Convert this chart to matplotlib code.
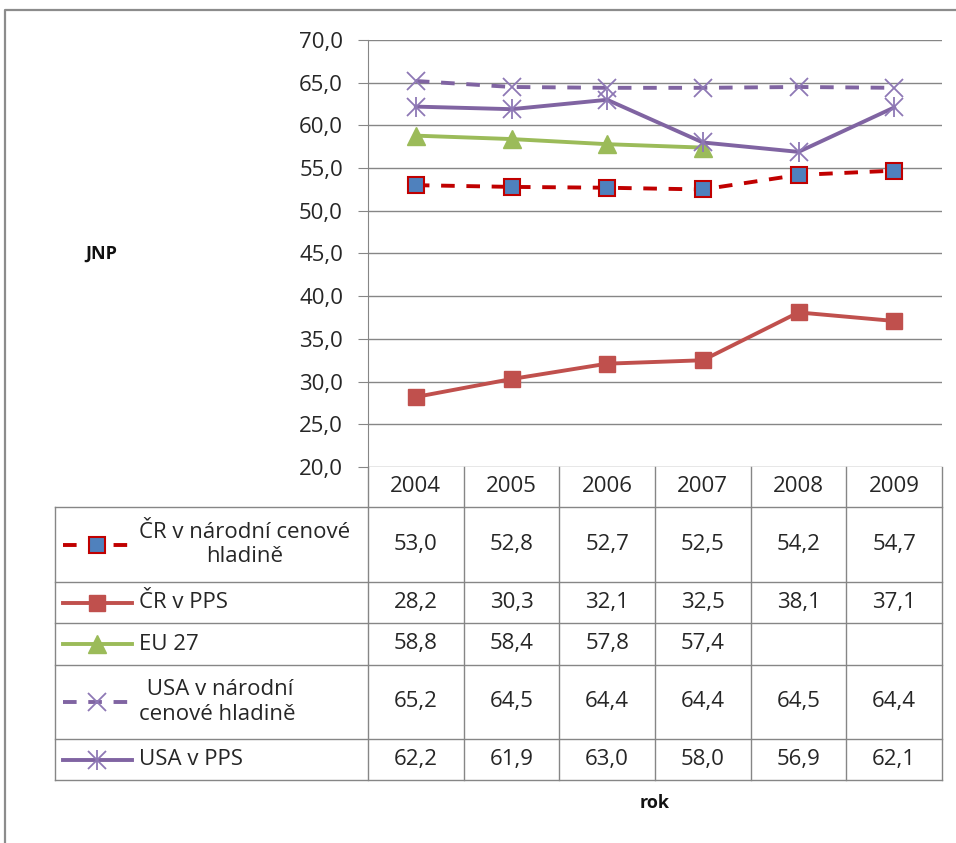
import numpy as np
import matplotlib.pyplot as plt
from matplotlib.transforms import blended_transform_factory

plt.rcParams['font.family'] = ['Open Sans', 'DejaVu Sans']

# data
years = ['2004', '2005', '2006', '2007', '2008', '2009']
cr_narodni = [53.0, 52.8, 52.7, 52.5, 54.2, 54.7]
cr_pps = [28.2, 30.3, 32.1, 32.5, 38.1, 37.1]
eu27 = [58.8, 58.4, 57.8, 57.4, np.nan, np.nan]
usa_narodni = [65.2, 64.5, 64.4, 64.4, 64.5, 64.4]
usa_pps = [62.2, 61.9, 63.0, 58.0, 56.9, 62.1]
labels = ['ČR v národní cenové\nhladině', 'ČR v PPS', 'EU 27',
          ' USA v národní\ncenové hladině', 'USA v PPS']
yticks = [20, 25, 30, 35, 40, 45, 50, 55, 60, 65, 70]

W, H = 956, 843
grey = '#868686'
txt = '#262626'
fs = 16
fig = plt.figure(figsize=(W / 100, H / 100), dpi=100)


def box(x0, y0, x1, y1):
    # pixel box (origin top left) -> figure fractions
    return [x0 / W, 1 - y1 / H, (x1 - x0) / W, (y1 - y0) / H]


ax = fig.add_axes(box(368, 40, 942, 467))
ov = fig.add_axes([0, 0, 1, 1], zorder=-1)
ov.set_xlim(0, W)
ov.set_ylim(H, 0)
ov.axis('off')

styles = [
    dict(color='#C00000', ls=(0, (3.5, 3)), marker='s', mfc='#4F81BD', mec='#C00000', ms=12, mew=1.5),
    dict(color='#C0504D', ls='-', marker='s', mfc='#C0504D', mec='#C0504D', ms=12, mew=1),
    dict(color='#9BBB59', ls='-', marker='^', mfc='#9BBB59', mec='#9BBB59', ms=13, mew=1),
    dict(color='#8064A2', ls=(0, (3.5, 3)), marker='x', mfc='#8064A2', mec='#8E78B5', ms=13, mew=1.3),
    dict(color='#8064A2', ls='-', marker='x', mfc='#8064A2', mec='#8E78B5', ms=13, mew=1.3),
]
series = [cr_narodni, cr_pps, eu27, usa_narodni, usa_pps]
x = np.arange(len(years))

for vals, st in zip(series, styles):
    ax.plot(x, vals, lw=2.8, **st)
# star marker = x + vertical bar
ax.plot(x, usa_pps, ls='none', marker='|', ms=15, mew=1.3, color='#8E78B5')

ax.set_xlim(-0.5, len(years) - 0.5)
ax.set_ylim(20, 70)
ax.set_yticks(yticks)
ax.set_yticklabels([f"{v:.1f}".replace('.', ',') for v in yticks])
ax.set_xticks([])
ax.tick_params(axis='y', direction='out', length=7, color=grey, labelsize=fs, pad=11, labelcolor=txt)
ax.grid(axis='y', color=grey, lw=1)
ax.set_axisbelow(True)
for s in ['top', 'right', 'bottom']:
    ax.spines[s].set_visible(False)
ax.spines['left'].set_color(grey)
ax.patch.set_visible(False)

# data table under the chart
tr = blended_transform_factory(ax.transData, ov.transData)
rows = [467, 507, 582, 623, 665, 739, 780]
left, right = 55, 942
for r in rows[1:]:
    ov.plot([left, right], [r, r], color=grey, lw=1)
ov.plot([left, left], [rows[1], rows[-1]], color=grey, lw=1)
for i in range(len(years) + 1):
    ov.plot([i - 0.5, i - 0.5], [rows[0], rows[-1]], color=grey, lw=1, transform=tr)

for i, yr in enumerate(years):
    ov.text(i, (rows[0] + rows[1]) / 2, yr, transform=tr, ha='center', va='center', fontsize=fs, color=txt)

for k, (vals, st, lab) in enumerate(zip(series, styles, labels)):
    yc = (rows[k + 1] + rows[k + 2]) / 2
    for i, v in enumerate(vals):
        if not np.isnan(v):
            ov.text(i, yc, f"{v:.1f}".replace('.', ','), transform=tr, ha='center', va='center',
                    fontsize=fs, color=txt)
    # legend key
    ov.plot([63, 132], [yc, yc], color=st['color'], ls=st['ls'], lw=2.8)
    ov.plot([97], [yc], ls='none', marker=st['marker'], mfc=st['mfc'], mec=st['mec'],
            ms=st['ms'], mew=st['mew'])
    if k == 4:
        ov.plot([97], [yc], ls='none', marker='|', ms=15, mew=1.3, color='#8E78B5')
    ov.text(139, yc, lab, ha='left', va='center', multialignment='center', fontsize=fs,
            color=txt, linespacing=1.2)

ov.text(101, 254, 'JNP', ha='center', va='center', fontsize=13, fontweight='bold', color='#111111')
ov.text(655, 803, 'rok', ha='center', va='center', fontsize=13, fontweight='bold', color='#111111')

# outer chart border
ov.plot([5, 5, W], [H, 10, 10], color='#8C8C8C', lw=1.6)

plt.savefig('out.png', dpi=100)
